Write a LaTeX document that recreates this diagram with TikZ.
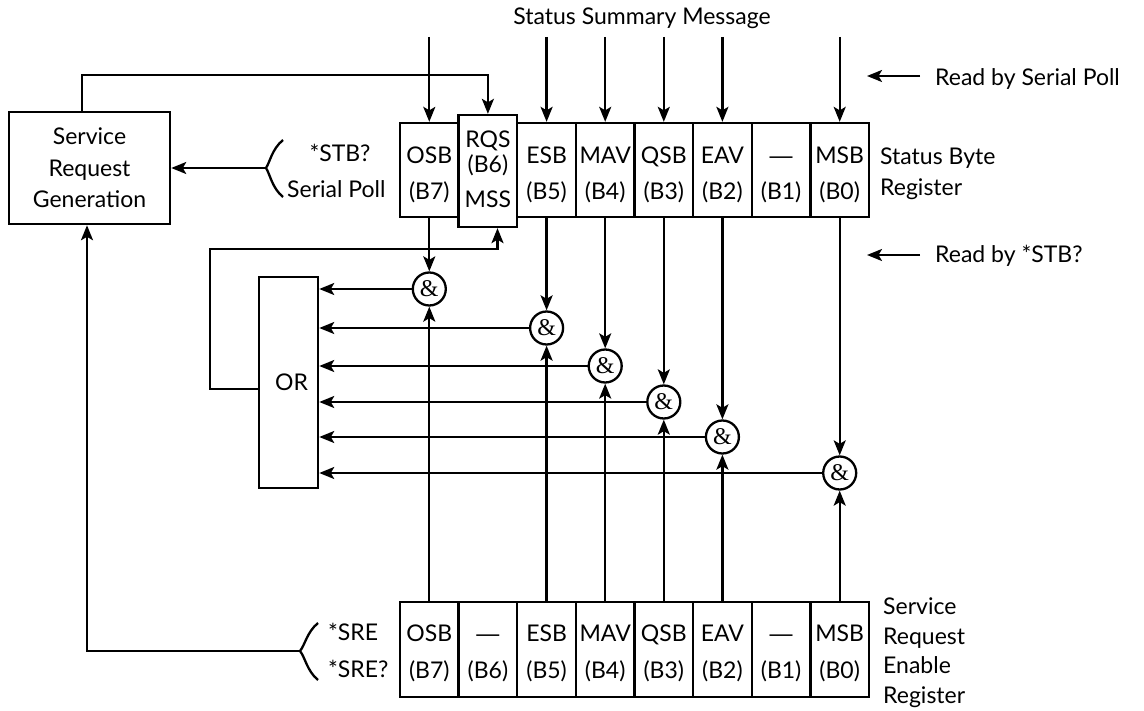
\documentclass[tikz,border=0pt]{standalone}
\usepackage{fontspec}
\setmainfont{Lato}
\newfontfamily\ampfont{Liberation Serif}
\newfontfamily\dashfont{Liberation Sans}
\usetikzlibrary{arrows.meta,calc}
\begin{document}
\begin{tikzpicture}[x=1pt,y=-1pt,
  every node/.style={font=\fontsize{23}{27}\selectfont},
  ln/.style={line width=2.3pt},
  arr/.style={line width=2.3pt,-{Stealth[length=15pt,width=12pt,inset=3.5pt]}},
  cell/.style={draw,line width=2.3pt,minimum width=58.6pt,minimum height=94pt,inner sep=0pt},
  gate/.style={draw,circle,line width=2.3pt,minimum size=33pt,inner sep=0pt,font=\ampfont\fontsize{24}{24}\selectfont},
  blk/.style={draw,line width=2.5pt,inner sep=0pt},
  lbl/.style={anchor=base,inner sep=0pt},
  lbll/.style={anchor=base west,inner sep=0pt}]
\useasboundingbox (0,0) rectangle (1144,711);

% Status byte register
\foreach \n/\x/\a/\b in {7/429.3/OSB/(B7),5/546.6/ESB/(B5),4/605.2/MAV/(B4),3/663.8/QSB/(B3),2/722.4/EAV/(B2),1/781.1/{\dashfont —}/(B1),0/839.7/MSB/(B0)}{
  \node[cell] (sb\n) at (\x,170) {};
  \node[lbl] at (\x,164) {\a};
  \node[lbl] at (\x,200) {\b};
}
\node[cell,fill=white,minimum height=112pt] (rqs) at (487.9,171) {};
\node[lbl] at (487.9,148) {RQS};
\node[lbl] at (487.9,173) {(B6)};
\node[lbl] at (487.9,208) {MSS};

% Service request enable register
\foreach \n/\x/\a/\b in {7/429.3/OSB/(B7),6/487.9/{\dashfont —}/(B6),5/546.6/ESB/(B5),4/605.2/MAV/(B4),3/663.8/QSB/(B3),2/722.4/EAV/(B2),1/781.1/{\dashfont —}/(B1),0/839.7/MSB/(B0)}{
  \node[cell,minimum height=95pt] (sr\n) at (\x,649.5) {};
  \node[lbl] at (\x,641) {\a};
  \node[lbl] at (\x,678) {\b};
}

% Blocks
\node[blk,minimum width=161pt,minimum height=112pt,align=center,font=\fontsize{23}{31.5}\selectfont] (srg) at (89.5,168) {Service\\Request\\Generation};
\node[blk,minimum width=59pt,minimum height=211pt] (or) at (288.5,382.5) {\hspace*{6pt}OR};

% AND gates
\node[gate] (g7) at (429.3,289) {\&};
\node[gate] (g5) at (546.6,328) {\&};
\node[gate] (g4) at (605.2,366) {\&};
\node[gate] (g3) at (663.8,402) {\&};
\node[gate] (g2) at (722.4,437) {\&};
\node[gate] (g0) at (839.7,473) {\&};

% Status summary inputs
\node[lbl] (ssm) at (642,25) {Status Summary Message};
\foreach \n in {7,5,4,3,2,0}{
  \coordinate (in\n) at ($(sb\n.north)+(0,-85)$);
  \draw[arr] (in\n) -- (sb\n.north);
}

% Status byte bits to gates, enable bits to gates, gates to OR
\foreach \n in {7,5,4,3,2,0}{
  \draw[arr] (sb\n.south) -- (g\n.north);
  \draw[arr] (sr\n.north) -- (g\n.south);
  \draw[arr] (g\n.west) -- (g\n.west -| or.east);
}

% SRG to RQS
\coordinate (loop) at (487.9,75);
\draw[arr] ([xshift=-7.5pt]srg.north) |- (loop) -- (rqs.north);

% OR feedback to RQS/MSS
\coordinate (fbk) at (497.5,249);
\draw[arr] ([yshift=-6.5pt]or.west) -- ++(-48,0) |- (fbk) -- (fbk |- rqs.south);

% *STB? / Serial Poll brace
\coordinate (stbtip) at (266,168);
\draw[ln] (283,140) .. controls (272,149) and (270,162) .. (stbtip) .. controls (270,174) and (272,188) .. (283,197);
\draw[arr] (stbtip) -- (srg.east);
\node[lbl] at (340,162) {*STB?};
\node[lbll] at (287,198) {Serial Poll};

% *SRE brace
\coordinate (sretip) at (300,651);
\draw[ln] (318,623) .. controls (307,632) and (305,645) .. (sretip) .. controls (305,657) and (307,671) .. (318,680);
\draw[arr] (sretip) -| ([xshift=-2.5pt]srg.south);
\node[lbll] at (328,640) {*SRE};
\node[lbll] at (328,677) {*SRE?};

% Read by labels
\coordinate (rsptail) at (920,76);
\coordinate (rsptip) at (867,76);
\draw[arr] (rsptail) -- (rsptip);
\node[lbll] at (935,86) {Read by Serial Poll};
\coordinate (rstail) at (920,255);
\coordinate (rstip) at (867,255);
\draw[arr] (rstail) -- (rstip);
\node[lbll] at (935,263) {Read by *STB?};

% Register names
\node[lbll] at (880,165) {Status Byte};
\node[lbll] at (880,196) {Register};
\node[lbll] at (883,614) {Service};
\node[lbll] at (883,644) {Request};
\node[lbll] at (883,673) {Enable};
\node[lbll] at (883,703) {Register};
\end{tikzpicture}
\end{document}
